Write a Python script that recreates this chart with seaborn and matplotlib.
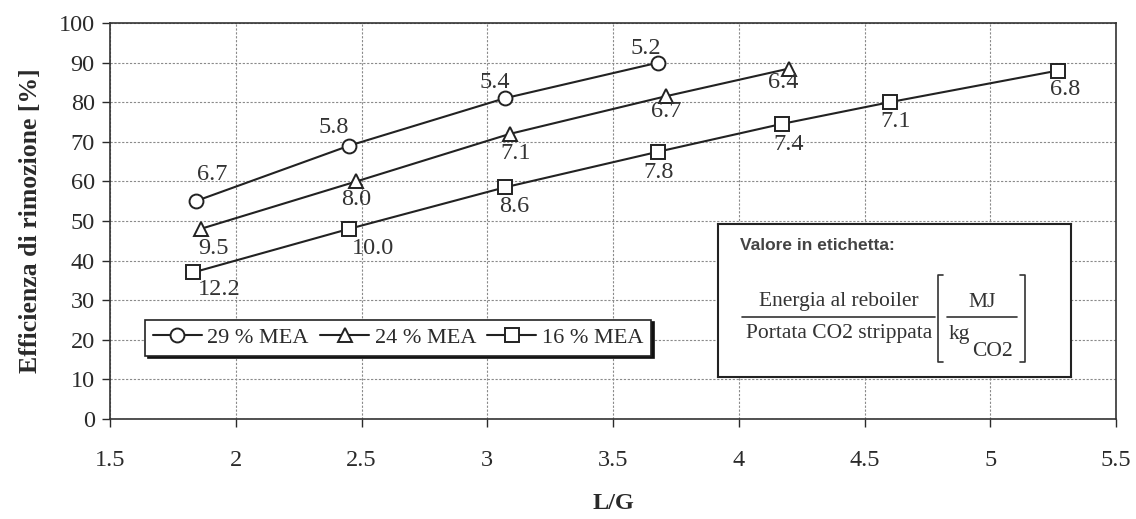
import matplotlib
matplotlib.use("Agg")
import matplotlib.pyplot as plt
import seaborn as sns
import pandas as pd

# L/G ratio and CO2 removal efficiency for each MEA concentration
lg_29 = [1.84, 2.45, 3.07, 3.68]
eff_29 = [55, 69, 81, 90]
lab_29 = ["6.7", "5.8", "5.4", "5.2"]

lg_24 = [1.86, 2.48, 3.09, 3.71, 4.20]
eff_24 = [48, 60, 72, 81.5, 88.5]
lab_24 = ["9.5", "8.0", "7.1", "6.7", "6.4"]

lg_16 = [1.83, 2.45, 3.07, 3.68, 4.17, 4.60, 5.27]
eff_16 = [37, 48, 58.5, 67.5, 74.5, 80, 88]
lab_16 = ["12.2", "10.0", "8.6", "7.8", "7.4", "7.1", "6.8"]

series_names = ["29 % MEA", "24 % MEA", "16 % MEA"]
x_ticks = [1.5, 2, 2.5, 3, 3.5, 4, 4.5, 5, 5.5]
x_tick_labels = ["1.5", "2", "2.5", "3", "3.5", "4", "4.5", "5", "5.5"]
y_ticks = list(range(0, 101, 10))

# label placement relative to each marker (offset in points)
off_29 = [(12, 19), (-11, 13), (-7, 11), (-9, 10)]
off_24 = [(9, -14), (0, -13), (4, -14), (0, -11), (-4, -10)]
off_16 = [(19, -12), (17, -14), (7, -14), (0, -15), (5, -15), (4, -14), (5, -14)]

sns.set_theme(style="white")
plt.rcParams["font.family"] = ["Liberation Serif", "DejaVu Serif"]

INK = "#2a2a2a"

fig = plt.figure(figsize=(11.36, 5.19), dpi=100)
ax = fig.add_axes([110 / 1136, 1 - 419 / 519, (1116 - 110) / 1136, (419 - 23) / 519])

df = pd.concat([
    pd.DataFrame({"LG": lg_29, "eff": eff_29, "serie": series_names[0]}),
    pd.DataFrame({"LG": lg_24, "eff": eff_24, "serie": series_names[1]}),
    pd.DataFrame({"LG": lg_16, "eff": eff_16, "serie": series_names[2]}),
])

markers = {series_names[0]: "o", series_names[1]: "^", series_names[2]: "s"}
palette = {n: "#222222" for n in series_names}
sns.lineplot(data=df, x="LG", y="eff", hue="serie", style="serie",
             markers=markers, dashes=False, palette=palette, ax=ax,
             linewidth=1.5, markersize=10, markerfacecolor="white",
             markeredgecolor="#222222", markeredgewidth=1.4, sort=False,
             zorder=3)

# value labels: reboiler energy per kg of stripped CO2
fs = 17.5
for xs, ys, labs, offs in ((lg_29, eff_29, lab_29, off_29),
                           (lg_24, eff_24, lab_24, off_24),
                           (lg_16, eff_16, lab_16, off_16)):
    for x, y, t, o in zip(xs, ys, labs, offs):
        ax.annotate(t, (x, y), xytext=o, textcoords="offset points",
                    ha="center", va="center", fontsize=fs, color="#333333",
                    zorder=4)

ax.set_xlim(1.5, 5.5)
ax.set_ylim(0, 100)
ax.set_xticks(x_ticks)
ax.set_xticklabels(x_tick_labels)
ax.set_yticks(y_ticks)
ax.tick_params(axis="both", labelsize=17.5, colors=INK, length=6,
               direction="out", left=True, bottom=True, width=1.0)
ax.tick_params(axis="x", pad=16)
ax.tick_params(axis="y", pad=5)
ax.grid(True, color="#8a8a8a", linestyle=(0, (2, 1.5)), linewidth=0.8)
for s in ax.spines.values():
    s.set_color("#333333")
    s.set_linewidth(1.2)

ax.set_xlabel("L/G", fontsize=17.5, fontweight="bold", color=INK, labelpad=16)
ax.set_ylabel("Efficienza di rimozione [%]", fontsize=18.5, fontweight="bold",
              color=INK, labelpad=12)

handles, labels = ax.get_legend_handles_labels()
leg = ax.legend(handles, labels, loc="lower left", bbox_to_anchor=(0.024, 0.132),
                ncol=3, frameon=True, fancybox=False,
                shadow={"color": "#111111", "alpha": 1.0},
                edgecolor="#222222", fontsize=16, handlelength=2.2,
                handletextpad=0.25, columnspacing=0.5, borderpad=0.35,
                framealpha=1)
leg.get_frame().set_linewidth(1.2)
for h in leg.legend_handles:
    h.set_markerfacecolor("white")
for t in leg.get_texts():
    t.set_color(INK)

# explanatory box for the value labels, laid out in its own local units
note = ax.inset_axes([0.604, 0.106, 0.351, 0.386], zorder=5)
note.set_xlim(0, 353)
note.set_ylim(153, 0)
note.set_xticks([])
note.set_yticks([])
note.set_facecolor("white")
for s in note.spines.values():
    s.set_color("#222222")
    s.set_linewidth(1.5)

TXT = "#333333"
note.text(22, 21, "Valore in etichetta:", fontsize=12.5,
          fontfamily="Liberation Sans", fontweight="bold", color="#444444",
          ha="left", va="center")
# energy / stripped CO2 fraction
note.text(121, 77, "Energia al reboiler", fontsize=15.5, color=TXT,
          ha="center", va="center")
note.plot([24, 217], [93, 93], color=TXT, lw=1.2)
note.text(121, 109, "Portata CO2 strippata", fontsize=15.5, color=TXT,
          ha="center", va="center")
# unit in square brackets
note.plot([225, 220, 220, 225], [51, 51, 138, 138], color=TXT, lw=1.2)
note.plot([302, 307, 307, 302], [51, 51, 138, 138], color=TXT, lw=1.2)
note.text(264, 78, "MJ", fontsize=15.5, color=TXT, ha="center", va="center")
note.plot([229, 299], [93, 93], color=TXT, lw=1.2)
note.text(231, 110, "kg", fontsize=15.5, color=TXT, ha="left", va="center")
note.text(254, 127, "CO2", fontsize=15.5, color=TXT, ha="left", va="center")

fig.savefig("out.png", dpi=100, facecolor="white")
